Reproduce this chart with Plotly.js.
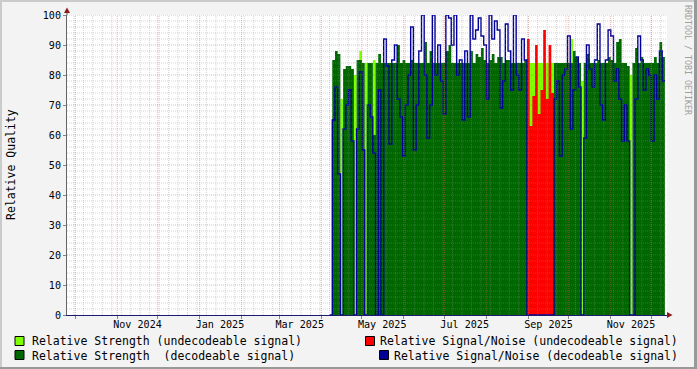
<!DOCTYPE html>
<html><head><meta charset="utf-8">
<script src="https://cdn.plot.ly/plotly-3.0.1.min.js"></script>
<style>html,body{margin:0;padding:0;background:#f3f3f3;}#chart{width:697px;height:369px;}</style>
</head><body><div id="chart"></div>
<script>
// ---- data (one value per 2-day bin, first bin = no data) ----
const seriesStart = '2025-04-07T02:00:00';
const stepDays = 2;
const strengthDecodable = [0,
 85,88,87,0,82,83,83,82,0,85,
 85,84,0,84,84,60,84,87,84,84,
 84,84,84,84,90,84,85,84,84,85,
 84,84,84,84,91,84,88,84,84,84,
 84,84,88,90,84,84,84,84,84,84,
 84,88,84,87,86,89,85,84,85,87,
 84,86,86,84,85,85,84,84,84,84,
 84,85,0,0,0,0,0,0,0,0,
 0,0,84,84,84,84,84,84,84,88,
 86,84,0,84,87,84,84,84,85,84,
 84,84,86,85,84,91,92,84,84,83,
 0,84,89,84,86,84,84,84,84,86,
 84,91,86];
const strengthUndecodable = [0,
 0,0,0,72,0,0,0,0,80,0,
 88,0,84,0,0,85,0,0,0,0,
 0,0,0,0,0,0,0,0,0,0,
 0,0,0,0,0,0,0,0,0,0,
 0,0,0,0,0,0,0,0,0,0,
 0,0,0,0,0,0,0,0,0,0,
 0,0,0,0,0,0,0,0,0,0,
 0,0,86,84,84,84,84,84,84,84,
 84,84,0,0,0,0,0,0,92,0,
 0,0,78,0,0,0,0,0,0,0,
 0,0,0,0,0,0,0,0,0,0,
 80,0,0,0,0,0,0,0,0,0,
 0,0,0];
const snrDecodable = [0,
 65,76,47,0,62,70,75,58,0,62,
 81,55,0,70,66,54,0,75,0,92,
 83,57,85,90,72,66,53,70,80,96,
 55,70,88,100,80,59,70,100,80,90,
 78,67,100,99,90,100,80,85,65,88,
 66,100,92,95,99,93,90,72,100,92,
 98,95,69,78,97,88,75,100,80,75,
 92,85,0,0,0,0,0,0,0,0,
 0,0,72,78,53,80,82,93,62,75,
 86,76,0,59,90,82,76,85,97,70,
 65,85,95,93,78,82,72,58,70,58,
 0,0,72,93,85,75,82,80,58,80,
 72,88,78];
const snrUndecodable = [0,
 0,0,0,0,0,0,0,0,0,0,
 0,0,0,0,0,0,0,0,0,0,
 0,0,0,0,0,0,0,0,0,0,
 0,0,0,0,0,0,0,0,0,0,
 0,0,0,0,0,0,0,0,0,0,
 0,0,0,0,0,0,0,0,0,0,
 0,0,0,0,0,0,0,0,0,0,
 0,0,92,63,73,90,67,75,95,72,
 90,74,0,0,0,0,0,0,0,0,
 0,0,0,0,0,0,0,0,0,0,
 0,0,0,0,0,0,0,0,0,0,
 0,0,0,0,0,0,0,0,0,0,
 0,0,0];
const tickDates = ['2024-11-16','2025-01-16','2025-03-16','2025-05-16','2025-07-16','2025-09-16','2025-11-16'];
const tickLabels = ['Nov 2024','Jan 2025','Mar 2025','May 2025','Jul 2025','Sep 2025','Nov 2025'];
const legendLabels = ['Relative Strength (undecodeable signal)','Relative Strength\u00a0 (decodeable signal)',
  'Relative Signal/Noise (undecodeable signal)','Relative Signal/Noise (decodeable signal)'];
const yTitle = 'Relative Quality';
const watermark = 'RRDTOOL / TOBI OETIKER';

// ---- styling ----
const C_LG = '#80ff00', C_DG = '#006600', C_RED = '#ff0000', C_BLUE = '#000099';
const MONO = 'DejaVu Sans Mono';
const xRange = ['2024-09-24 20:40:00', '2025-12-12 16:00:00'];
const W = 697, H = 369, L = 67, R = 30, T = 15, B = 54;
const PW = W - L - R, PH = H - T - B;
const px = v => (v - L) / PW;          // pixel -> paper x
const py = v => (H - B - v) / PH;      // pixel -> paper y

const t0 = Date.parse(seriesStart + 'Z');
const stepMs = stepDays * 864e5;
const iso = ms => new Date(ms).toISOString().slice(0, 19).replace('T', ' ');
const times = [];
for (let i = 0; i <= strengthDecodable.length; i++) times.push(iso(t0 + i * stepMs));
const ext = a => a.concat([a[a.length - 1]]);

function area(y, color) {
  return {x: times, y: ext(y), type: 'scatter', mode: 'lines', fill: 'tozeroy', fillcolor: color,
    line: {shape: 'hv', width: 0, color: color}, hoverinfo: 'skip', showlegend: false};
}
const traces = [
  area(strengthUndecodable, C_LG),
  area(strengthDecodable, C_DG),
  area(snrUndecodable, C_RED),
  {x: times, y: ext(snrDecodable), xaxis: 'x2', type: 'scatter', mode: 'lines',
   line: {shape: 'hv', width: 1.4, color: C_BLUE}, hoverinfo: 'skip', showlegend: false}
];

// grid drawn above the data, as in the original
const shapes = [];
const gMinor = 'rgba(143,143,143,0.38)', gMajor = 'rgba(222,79,79,0.45)';
const endMs = Date.parse(xRange[1].replace(' ', 'T') + 'Z');
for (let t = Date.UTC(2024, 8, 30); t <= endMs; t += 7 * 864e5)
  shapes.push({type: 'line', layer: 'above', xref: 'x', yref: 'paper', x0: iso(t), x1: iso(t), y0: 0, y1: 1,
    line: {color: gMinor, width: 1, dash: '1px,1px'}});
for (let v = 2; v < 100; v += 2) if (v % 10)
  shapes.push({type: 'line', layer: 'above', xref: 'paper', yref: 'y', x0: 0, x1: 1, y0: v, y1: v,
    line: {color: gMinor, width: 1, dash: '1px,1px'}});
for (let m = 0; m < 15; m++) { const t = Date.UTC(2024, 9 + m, 1);
  shapes.push({type: 'line', layer: 'above', xref: 'x', yref: 'paper', x0: iso(t), x1: iso(t), y0: 0, y1: 1,
    line: {color: gMajor, width: 1, dash: '1px,1px'}}); }
for (let v = 10; v <= 100; v += 10)
  shapes.push({type: 'line', layer: 'above', xref: 'paper', yref: 'y', x0: 0, x1: 1, y0: v, y1: v,
    line: {color: gMajor, width: 1, dash: '1px,1px'}});

// arrows
const arrowC = '#8e1a1a';
shapes.push({type: 'line', xref: 'paper', yref: 'paper', x0: 0, x1: 0, y0: 1, y1: py(11), line: {color: '#666', width: 1}});
shapes.push({type: 'path', xref: 'paper', yref: 'paper', fillcolor: arrowC, line: {width: 0},
  path: `M ${px(64)} ${py(13)} L ${px(70)} ${py(13)} L ${px(67)} ${py(7.5)} Z`});
shapes.push({type: 'path', xref: 'paper', yref: 'paper', fillcolor: arrowC, line: {width: 0},
  path: `M ${px(667)} ${py(312)} L ${px(667)} ${py(318)} L ${px(672.5)} ${py(315)} Z`});
// frame shading
shapes.push({type: 'rect', xref: 'paper', yref: 'paper', x0: px(0), x1: px(697), y0: py(0), y1: py(2), fillcolor: '#cbcbcb', line: {width: 0}});
shapes.push({type: 'rect', xref: 'paper', yref: 'paper', x0: px(0), x1: px(2), y0: py(0), y1: py(369), fillcolor: '#cbcbcb', line: {width: 0}});
shapes.push({type: 'rect', xref: 'paper', yref: 'paper', x0: px(694), x1: px(697), y0: py(0), y1: py(369), fillcolor: '#999999', line: {width: 0}});
shapes.push({type: 'rect', xref: 'paper', yref: 'paper', x0: px(0), x1: px(697), y0: py(367), y1: py(369), fillcolor: '#999999', line: {width: 0}});

// legend boxes + texts
const legendBoxes = [[15, 336.5, C_LG], [15, 350.5, C_DG], [365.5, 336.5, C_RED], [379.5, 350.5, C_BLUE]];
legendBoxes.forEach(([x, y, c]) => shapes.push({type: 'rect', xref: 'paper', yref: 'paper',
  x0: px(x), x1: px(x + 9), y0: py(y), y1: py(y + 9), fillcolor: c, line: {color: '#000', width: 1}}));

const annotations = [
  {text: legendLabels[0], x: px(30), y: py(341), xanchor: 'left'},
  {text: legendLabels[1], x: px(30), y: py(355.5), xanchor: 'left'},
  {text: legendLabels[2], x: px(680), y: py(341), xanchor: 'right'},
  {text: legendLabels[3], x: px(680), y: py(355.5), xanchor: 'right'}
].map(a => Object.assign(a, {xref: 'paper', yref: 'paper', yanchor: 'middle', showarrow: false,
  font: {family: MONO, size: 11.5, color: '#000'}}));
annotations.push({text: yTitle, x: px(11), y: 0.5, xref: 'paper', yref: 'paper', textangle: -90,
  xanchor: 'center', yanchor: 'middle', showarrow: false, font: {family: MONO, size: 11.5, color: '#000'}});
annotations.push({text: watermark, x: px(688), y: py(60), xref: 'paper', yref: 'paper', textangle: 90,
  xanchor: 'center', yanchor: 'middle', showarrow: false, font: {family: MONO, size: 8.3, color: '#a0a0a0'}});

const layout = {
  width: W, height: H, margin: {l: L, r: R, t: T, b: B, pad: 0},
  paper_bgcolor: '#f3f3f3', plot_bgcolor: '#ffffff', showlegend: false,
  font: {family: MONO, size: 10, color: '#000'},
  xaxis: {type: 'date', range: xRange, autorange: false, showgrid: false, zeroline: false,
    tickmode: 'linear', tick0: '2024-10-01', dtick: 'M1', ticks: 'outside', ticklen: 3, tickcolor: '#888',
    showticklabels: false, showline: true, linecolor: '#1a1a70', linewidth: 1, fixedrange: true},
  xaxis2: {type: 'date', range: xRange, autorange: false, overlaying: 'x', anchor: 'y', side: 'bottom',
    tickmode: 'array', tickvals: tickDates, ticktext: tickLabels, ticks: '', showgrid: false,
    zeroline: false, showline: false, ticklabelstandoff: 2,
    tickfont: {family: MONO, size: 10.1, color: '#000'}, fixedrange: true},
  yaxis: {range: [0, 100], autorange: false, tickmode: 'linear', tick0: 0, dtick: 10, ticks: 'outside',
    ticklen: 3, tickcolor: '#888', showgrid: false, zeroline: false, showline: true, linecolor: '#666',
    tickfont: {family: MONO, size: 10.1, color: '#000'}, fixedrange: true},
  shapes: shapes, annotations: annotations
};
Plotly.newPlot('chart', traces, layout, {displayModeBar: false, staticPlot: true});
</script></body></html>
